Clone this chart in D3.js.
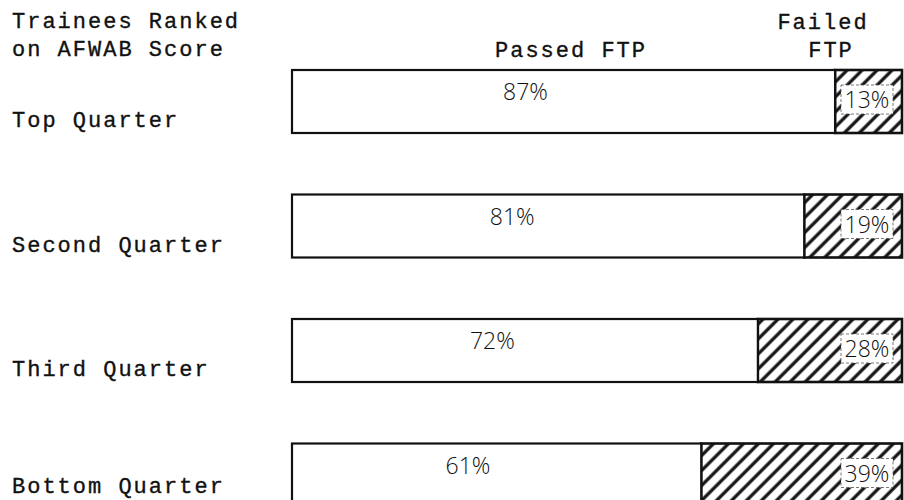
<!DOCTYPE html>
<html>
<head>
<meta charset="utf-8">
<script src="https://cdn.jsdelivr.net/npm/d3@7"></script>
<style>
  html, body { margin: 0; padding: 0; background: #fff; }
  svg { display: block; }
  .mono { font-family: "Liberation Mono", "DejaVu Sans Mono", monospace; fill: #111; stroke: #111; stroke-width: 0.35px; }
  .pct { font-family: "Open Sans", "DejaVu Sans", sans-serif; font-weight: 300; fill: #111; }
</style>
</head>
<body>
<svg id="chart" width="904" height="500"></svg>
<script>
// ---- data ----
const categories = ["Top Quarter", "Second Quarter", "Third Quarter", "Bottom Quarter"];
const passed = [87, 81, 72, 61];
const failed = [13, 19, 28, 39];
const passedLabels = ["87%", "81%", "72%", "61%"];
const failedLabels = ["13%", "19%", "28%", "39%"];
const titleLines = ["Trainees Ranked", "on AFWAB Score"];
const passedHeader = "Passed FTP";
const failedHeader = ["Failed", "FTP"];

// ---- layout ----
const svg = d3.select("#chart");

// The hand-drawn original is not zero-based: the box starts left of the 0 point.
const x = d3.scaleLinear().domain([-18.5, 100]).range([292, 902]);
const y = d3.scaleBand().domain(categories).range([70, 506.5]).paddingInner(0.494).paddingOuter(0);
const x0 = x.domain()[0];

const defs = svg.append("defs");
const pat = defs.append("pattern")
  .attr("id", "hatch")
  .attr("patternUnits", "userSpaceOnUse")
  .attr("width", 10.6).attr("height", 10.6)
  .attr("patternTransform", "rotate(45)");
pat.append("rect").attr("width", 10.6).attr("height", 10.6).attr("fill", "#fff");
pat.append("line")
  .attr("x1", 2).attr("y1", 0).attr("x2", 2).attr("y2", 10.6)
  .attr("stroke", "#111").attr("stroke-width", 3.2);

const rows = categories.map((c, i) => ({ c, p: passed[i], f: failed[i], pl: passedLabels[i], fl: failedLabels[i] }));

const g = svg.append("g");

// failed (hatched) segments
g.selectAll("rect.failed").data(rows).join("rect")
  .attr("class", "failed")
  .attr("x", d => x(d.p))
  .attr("y", d => y(d.c))
  .attr("width", d => x(d.p + d.f) - x(d.p))
  .attr("height", y.bandwidth())
  .attr("fill", "url(#hatch)")
  .attr("stroke", "#111").attr("stroke-width", 2.6);

// passed segments
g.selectAll("rect.passed").data(rows).join("rect")
  .attr("class", "passed")
  .attr("x", x(x0))
  .attr("y", d => y(d.c))
  .attr("width", d => x(d.p) - x(x0))
  .attr("height", y.bandwidth())
  .attr("fill", "#fff")
  .attr("stroke", "#111").attr("stroke-width", 2.2);

// passed labels
g.selectAll("text.pl").data(rows).join("text")
  .attr("class", "pct pl")
  .attr("x", d => x(x0) + 0.43 * (x(d.p) - x(x0)))
  .attr("y", d => y(d.c) + 30)
  .attr("text-anchor", "middle")
  .attr("font-size", 23)
  .text(d => d.pl);

// failed label boxes
const fx = d => x(d.p + d.f) - 35;
g.selectAll("rect.fb").data(rows).join("rect")
  .attr("class", "fb")
  .attr("x", d => fx(d) - 26)
  .attr("y", d => y(d.c) + 15)
  .attr("width", 52).attr("height", 29)
  .attr("fill", "#fff")
  .attr("stroke", "#555").attr("stroke-width", 0.8).attr("stroke-dasharray", "3,2");
g.selectAll("text.fl").data(rows).join("text")
  .attr("class", "pct fl")
  .attr("x", fx)
  .attr("y", d => y(d.c) + 38)
  .attr("text-anchor", "middle")
  .attr("font-size", 23)
  .text(d => d.fl);

// category labels
g.selectAll("text.cat").data(rows).join("text")
  .attr("class", "mono cat")
  .attr("x", 12)
  .attr("y", d => Math.min(y(d.c) + 57, 493))
  .attr("font-size", 22).attr("letter-spacing", 2)
  .text(d => d.c);

// headers
svg.selectAll("text.title").data(titleLines).join("text")
  .attr("class", "mono title")
  .attr("x", 12).attr("y", (d, i) => 28 + i * 28)
  .attr("font-size", 22).attr("letter-spacing", 2)
  .text(d => d);

svg.append("text").attr("class", "mono")
  .attr("x", 571).attr("y", 57)
  .attr("text-anchor", "middle")
  .attr("font-size", 22).attr("letter-spacing", 2)
  .text(passedHeader);

svg.selectAll("text.fh").data(failedHeader).join("text")
  .attr("class", "mono fh")
  .attr("x", (d, i) => i === 0 ? 823 : 831).attr("y", (d, i) => 29 + i * 28)
  .attr("text-anchor", "middle")
  .attr("font-size", 22).attr("letter-spacing", 2)
  .text(d => d);
</script>
</body>
</html>
